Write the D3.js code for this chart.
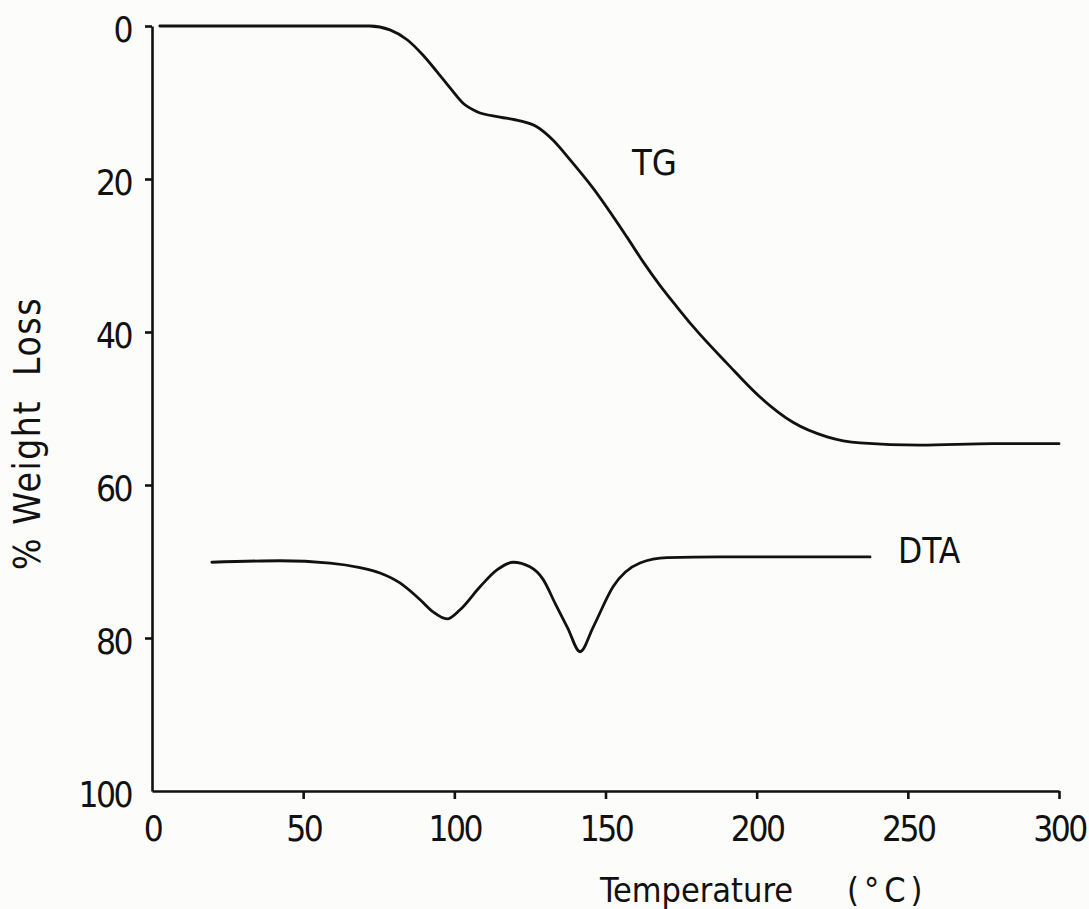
<!DOCTYPE html>
<html>
<head>
<meta charset="utf-8">
<script src="https://cdn.jsdelivr.net/npm/d3@7"></script>
<style>
  html, body { margin: 0; padding: 0; background: #fcfcfb; }
  svg { display: block; }
  .tick text { font-family: 'DejaVu Sans Condensed', 'DejaVu Sans', sans-serif; font-stretch: condensed; font-size: 35px; letter-spacing: -2.5px; fill: #111; }
  .lbl { font-family: 'DejaVu Sans Condensed', 'DejaVu Sans', sans-serif; font-stretch: condensed; fill: #111; white-space: pre; }
</style>
</head>
<body>
<svg width="1089" height="909"></svg>
<script>
// TG curve: temperature (°C) vs % weight loss
var tgTemp = [2.6, 72, 78.7, 84.4, 89.6, 94.3, 98.6, 102.9, 107.5, 115.1, 121.7, 127.4, 132.6, 138.3, 145.5, 157.1, 162.4, 168.0, 173.6, 179.0, 190.2, 201.1, 212.0, 223.3, 234.2, 254.1, 278.2, 300];
var tgLoss = [0, 0, 0.5, 1.8, 3.8, 6.0, 8.1, 10.1, 11.2, 11.9, 12.4, 13.2, 14.9, 17.5, 21.0, 27.6, 30.8, 33.9, 36.7, 39.3, 44.1, 48.5, 51.8, 53.7, 54.5, 54.8, 54.6, 54.6];

// DTA trace, plotted on the same axis
var dtaTemp = [19.8, 42.3, 58.9, 68.8, 75.4, 82.0, 88.7, 93.0, 97.6, 101.9, 108.5, 114.1, 119.4, 125.0, 129.3, 133.5, 137.5, 141.6, 145.9, 152.5, 161.4, 170.4, 187.9, 237.5];
var dtaVal  = [70.1, 69.9, 70.2, 70.8, 71.5, 72.8, 75.0, 76.6, 77.5, 76.3, 73.3, 71.1, 70.1, 70.7, 72.3, 75.6, 78.7, 81.8, 78.6, 73.3, 70.2, 69.5, 69.4, 69.4];

var xTicks = [0, 50, 100, 150, 200, 250, 300];
var yTicks = [0, 20, 40, 60, 80, 100];

var svg = d3.select('svg');
var ink = '#111';

var x = d3.scaleLinear().domain([0, 300]).range([152, 1059]);
var y = d3.scaleLinear().domain([0, 100]).range([26, 791]);

// Y axis
var gy = svg.append('g')
  .attr('transform', 'translate(' + x(0) + ',0)')
  .call(d3.axisLeft(y).tickValues(yTicks).tickSize(7).tickSizeOuter(0).tickPadding(14));
gy.selectAll('.tick text').attr('dy', '0.45em');

// X axis
var gx = svg.append('g')
  .attr('transform', 'translate(0,' + y(100) + ')')
  .call(d3.axisBottom(x).tickValues(xTicks).tickSize(8).tickSizeOuter(0).tickPadding(17));

[gx, gy].forEach(function(g) {
  g.select('.domain').attr('stroke', ink).attr('stroke-width', 2.6);
  g.selectAll('.tick line').attr('stroke', ink).attr('stroke-width', 2.6);
  g.selectAll('.tick text').attr('fill', ink);
});
gx.selectAll('.tick').filter(function(d) { return d === 0; }).select('line').remove();
gy.selectAll('.tick').filter(function(d) { return d === 100; }).select('line').remove();

// curves
var line = d3.line()
  .x(function(d) { return x(d[0]); })
  .y(function(d) { return y(d[1]); })
  .curve(d3.curveMonotoneX);

svg.append('path')
  .datum(d3.zip(tgTemp, tgLoss))
  .attr('fill', 'none')
  .attr('stroke', ink)
  .attr('stroke-width', 2.8)
  .attr('stroke-linejoin', 'round')
  .attr('stroke-linecap', 'round')
  .attr('d', line);

svg.append('path')
  .datum(d3.zip(dtaTemp, dtaVal))
  .attr('fill', 'none')
  .attr('stroke', ink)
  .attr('stroke-width', 2.8)
  .attr('stroke-linejoin', 'round')
  .attr('stroke-linecap', 'round')
  .attr('d', line);

// series labels
svg.append('text').attr('class', 'lbl')
  .attr('x', 632).attr('y', 175)
  .style('font-size', '36px')
  .text('TG');

svg.append('text').attr('class', 'lbl')
  .attr('x', 898).attr('y', 563)
  .style('font-size', '35px')
  .text('DTA');

// axis titles
var xt = svg.append('text').attr('class', 'lbl')
  .attr('x', 600).attr('y', 902)
  .style('font-size', '34px');
xt.append('tspan').text('Temperature');
xt.append('tspan').attr('x', 847).attr('letter-spacing', '5px').text('(°C)');

svg.append('text').attr('class', 'lbl')
  .attr('transform', 'translate(40,570) rotate(-90)')
  .style('font-size', '37px')
  .attr('letter-spacing', '1.5px')
  .text('% Weight  Loss');
</script>
</body>
</html>
